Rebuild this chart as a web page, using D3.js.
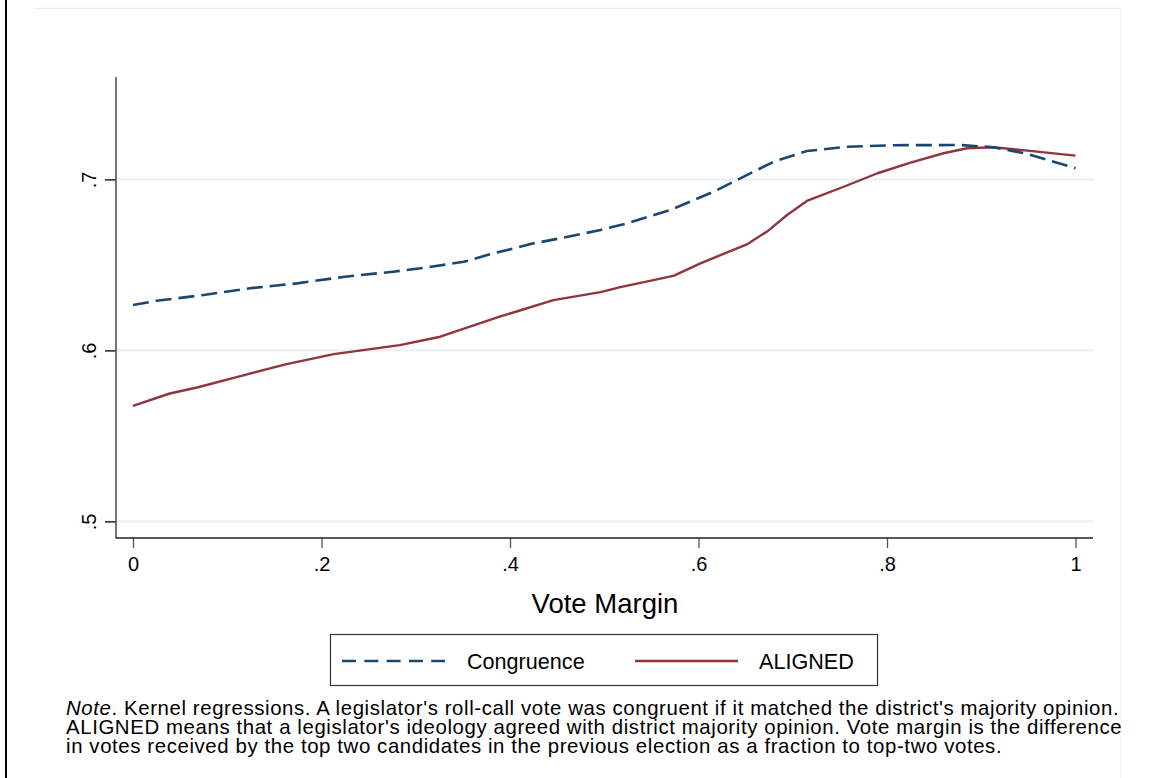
<!DOCTYPE html>
<html>
<head>
<meta charset="utf-8">
<script src="https://cdn.jsdelivr.net/npm/d3@7"></script>
<style>
html,body{margin:0;padding:0;background:#fff;}
svg{display:block;font-family:"Liberation Sans",Arial,Helvetica,sans-serif;}
</style>
</head>
<body>
<svg id="chart" width="1163" height="778"></svg>
<script>
// ---- data ----
const congruenceX = [0.000,0.025,0.075,0.124,0.174,0.225,0.276,0.305,0.351,0.376,0.425,0.453,0.496,0.524,0.570,0.616,0.648,0.680,0.715,0.758,0.807,0.878,0.913,0.949,1.000];
const congruenceY = [0.6265,0.6290,0.6324,0.6363,0.6392,0.6431,0.6460,0.6480,0.6518,0.6558,0.6626,0.6655,0.6704,0.6743,0.6821,0.6928,0.7016,0.7104,0.7166,0.7191,0.7200,0.7201,0.7188,0.7149,0.7065];
const alignedX = [0.000,0.039,0.068,0.114,0.163,0.213,0.283,0.326,0.389,0.446,0.496,0.517,0.556,0.574,0.602,0.652,0.674,0.694,0.715,0.754,0.790,0.825,0.860,0.885,0.913,0.949,1.000];
const alignedY = [0.5676,0.5748,0.5783,0.5850,0.5920,0.5978,0.6031,0.6080,0.6197,0.6294,0.6341,0.6370,0.6415,0.6437,0.6509,0.6622,0.6700,0.6792,0.6874,0.6957,0.7036,0.7098,0.7153,0.7182,0.7188,0.7168,0.7139];
const xTicks = [0,0.2,0.4,0.6,0.8,1];
const xTickLabels = ["0",".2",".4",".6",".8","1"];
const yTicks = [0.5,0.6,0.7];
const yTickLabels = [".5",".6",".7"];
const seriesNames = ["Congruence","ALIGNED"];
const xTitle = "Vote Margin";
const noteLines = [
  [{t:"Note",i:true},{t:". Kernel regressions. A legislator's roll-call vote was congruent if it matched the district's majority opinion."}],
  [{t:"ALIGNED means that a legislator's ideology agreed with district majority opinion. Vote margin is the difference"}],
  [{t:"in votes received by the top two candidates in the previous election as a fraction to top-two votes."}]
];

// ---- layout ----
const navy = "#1a476f", maroon = "#90353b", grid = "#eaf2f3";
const svg = d3.select("#chart");
const x = d3.scaleLinear().domain([0,1]).range([133,1075.5]);
const y = d3.scaleLinear().domain([0.5,0.7]).range([521.4,179.4]);
const plotL = 116, plotR = 1093, plotT = 77, plotB = 538;

// outer frame
svg.append("line").attr("x1",36).attr("x2",1121).attr("y1",8.5).attr("y2",8.5).attr("stroke","#e6ecee").attr("stroke-width",1.5);
svg.append("line").attr("x1",1121).attr("x2",1121).attr("y1",8).attr("y2",778).attr("stroke","#eef1f2").attr("stroke-width",1);
svg.append("line").attr("x1",6).attr("x2",6).attr("y1",0).attr("y2",778).attr("stroke","#000").attr("stroke-width",2);

// gridlines
svg.append("g").selectAll("line").data(yTicks).join("line")
  .attr("x1",plotL).attr("x2",plotR).attr("y1",d=>y(d)).attr("y2",d=>y(d))
  .attr("stroke",grid).attr("stroke-width",2.2);

// y axis
const yAxis = d3.axisLeft(y).tickValues(yTicks).tickFormat((d,i)=>yTickLabels[i]).tickSize(11).tickPadding(8);
const gy = svg.append("g").attr("transform",`translate(${plotL},0)`).call(yAxis);
gy.select(".domain").remove();
gy.selectAll(".tick line").attr("stroke","#000").attr("stroke-width",1.3);
gy.selectAll(".tick text").attr("font-size",20).attr("fill","#000")
  .attr("text-anchor","middle").attr("x",0).attr("dy",0)
  .attr("transform","translate(-20,0) rotate(-90)");
svg.append("line").attr("x1",plotL).attr("x2",plotL).attr("y1",plotT).attr("y2",plotB+0.5).attr("stroke","#555").attr("stroke-width",1.6);

// x axis
const xAxis = d3.axisBottom(x).tickValues(xTicks).tickFormat((d,i)=>xTickLabels[i]).tickSize(10).tickPadding(9);
const gx = svg.append("g").attr("transform",`translate(0,${plotB})`).call(xAxis);
gx.select(".domain").remove();
gx.selectAll(".tick line").attr("stroke","#555").attr("stroke-width",1.3);
gx.selectAll(".tick text").attr("font-size",20).attr("fill","#000");
svg.append("line").attr("x1",plotL).attr("x2",plotR).attr("y1",plotB).attr("y2",plotB).attr("stroke","#222").attr("stroke-width",1.3);

svg.append("text").attr("x",605).attr("y",613).attr("text-anchor","middle")
  .attr("font-size",27.5).attr("fill","#000").text(xTitle);

// lines
const line = d3.line().x(d=>x(d[0])).y(d=>y(d[1]));
const cData = congruenceX.map((v,i)=>[v,congruenceY[i]]);
const aData = alignedX.map((v,i)=>[v,alignedY[i]]);
svg.append("path").datum(aData).attr("d",line).attr("fill","none").attr("stroke",maroon).attr("stroke-width",2.4).attr("stroke-linejoin","round");
svg.append("path").datum(cData).attr("d",line).attr("fill","none").attr("stroke",navy).attr("stroke-width",2.6).attr("stroke-dasharray","16 7");

// legend
const lg = svg.append("g");
lg.append("rect").attr("x",330.5).attr("y",634.5).attr("width",547).attr("height",51).attr("fill","#fff").attr("stroke","#333").attr("stroke-width",1.2);
lg.append("line").attr("x1",342).attr("x2",445).attr("y1",661).attr("y2",661).attr("stroke",navy).attr("stroke-width",2.6).attr("stroke-dasharray","14 8.3");
lg.append("text").attr("x",467).attr("y",669).attr("font-size",21.6).attr("fill","#000").text(seriesNames[0]);
lg.append("line").attr("x1",635).attr("x2",738).attr("y1",661).attr("y2",661).attr("stroke",maroon).attr("stroke-width",2.4);
lg.append("text").attr("x",759).attr("y",669).attr("font-size",21.6).attr("fill","#000").text(seriesNames[1]);

// note
const baselines = [715,734,753];
const nt = svg.append("g");
noteLines.forEach((parts,i)=>{
  const t = nt.append("text").attr("x",66).attr("y",baselines[i]).attr("font-size",20.4)
    .attr("letter-spacing",0.6).attr("fill","#000");
  parts.forEach(p=>{ t.append("tspan").attr("font-style",p.i?"italic":null).text(p.t); });
});
</script>
</body>
</html>
